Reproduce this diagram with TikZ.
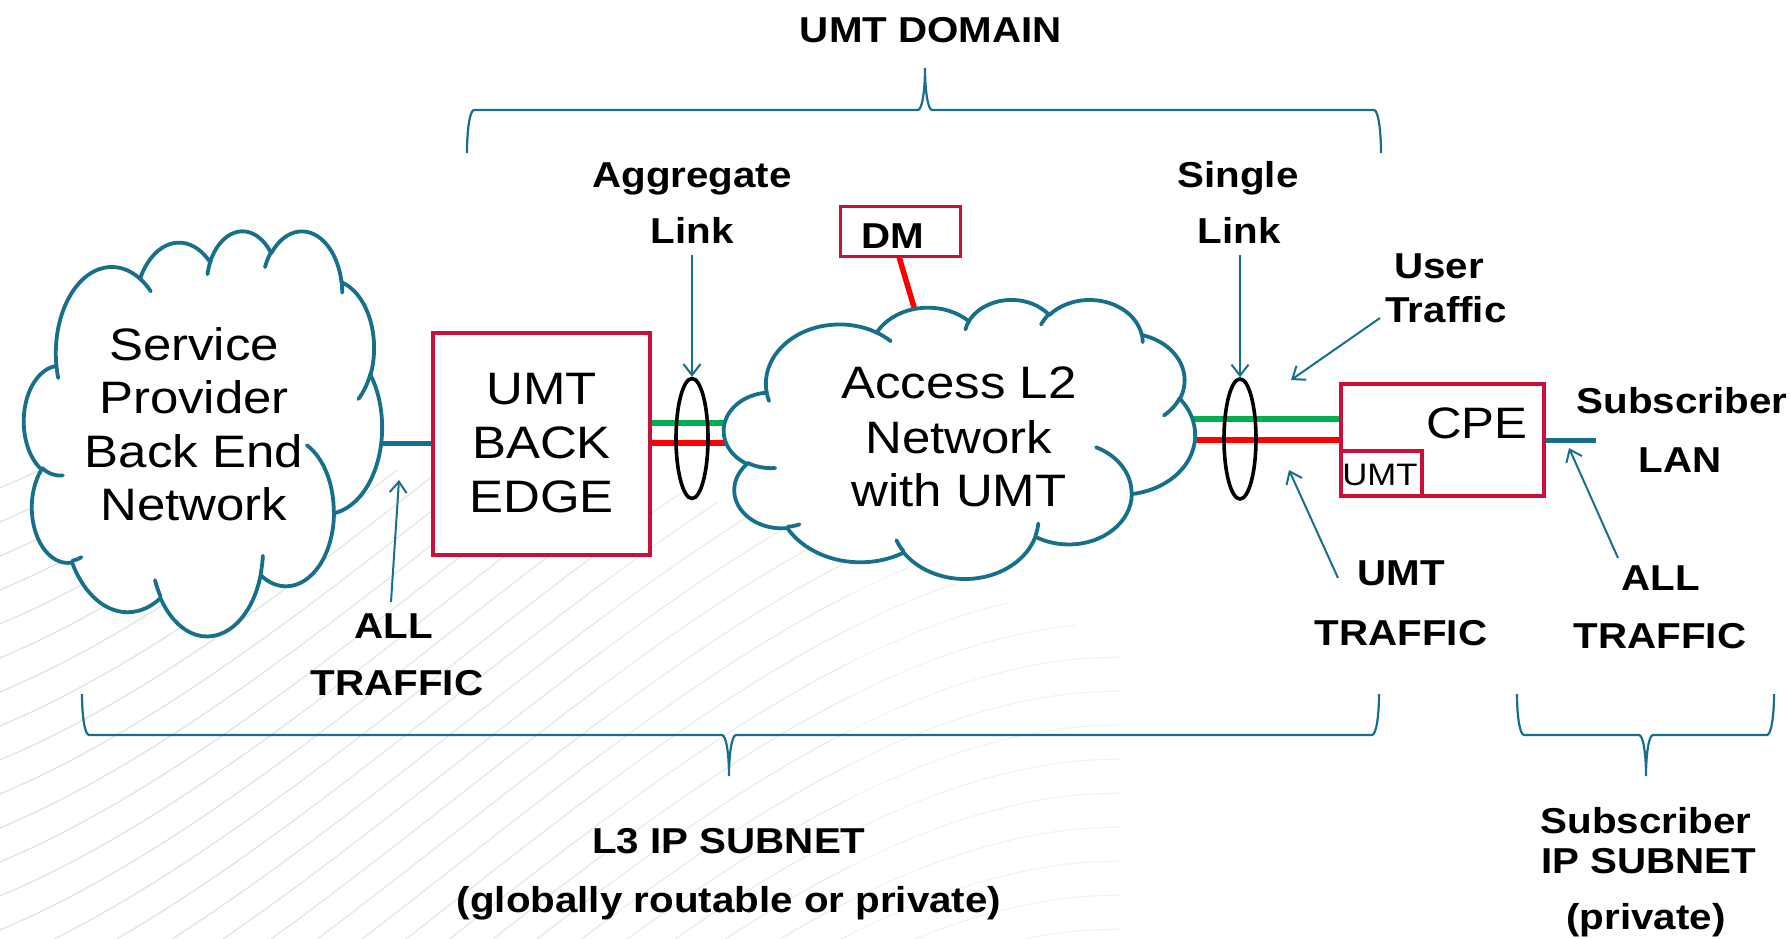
\documentclass[tikz,border=0pt]{standalone}
\usepackage{fontspec}
\newfontfamily\fA[FakeStretch=1.12]{Liberation Sans}
\usetikzlibrary{arrows.meta,shapes.geometric}
\definecolor{umtteal}{RGB}{22,112,140}
\definecolor{boxred}{RGB}{200,16,58}
\definecolor{lgreen}{RGB}{0,176,80}
\definecolor{lred}{RGB}{255,0,0}
\definecolor{bgA}{RGB}{224,224,224}
\definecolor{bgB}{RGB}{228,228,228}
\definecolor{bgC}{RGB}{234,234,234}
\definecolor{bgD}{RGB}{242,242,242}

% ---- PowerPoint-like cloud path builder ----
\newcommand\ppArc[4]{%
  \pgfmathsetmacro\ppA{-((#3)+mod(atan2((#1)*sin(#3),(#2)*cos(#3))-(#3)+900,360)-180)}%
  \pgfmathsetmacro\ppB{-((#3)+(#4)+mod(atan2((#1)*sin((#3)+(#4)),(#2)*cos((#3)+(#4)))-((#3)+(#4))+900,360)-180)}%
  \pgfmathsetmacro\ppX{(#1)*\csx}%
  \pgfmathsetmacro\ppY{(#2)*\csy}%
  \xdef\cpath{\cpath arc[start angle=\ppA, end angle=\ppB, x radius=\ppX pt, y radius=\ppY pt]}%
}
\newcommand\ppMove[2]{%
  \pgfmathsetmacro\ppPx{\cxo+(#1)*\csx}%
  \pgfmathsetmacro\ppPy{\cyo+(#2)*\csy}%
  \xdef\cpath{\cpath (\ppPx,\ppPy)}%
}
\newcommand\cloudSetup[4]{%
  \pgfmathsetmacro\cxo{#1}\pgfmathsetmacro\cyo{#2}%
  \pgfmathsetmacro\csx{(#3)/432}\pgfmathsetmacro\csy{(#4)/432}%
  \gdef\cpath{}%
}
\newcommand\cloudOuter{%
  \ppMove{39.00}{143.70}%
  \ppArc{67.53}{91.90}{-190.4875}{123.7805}%
  \ppArc{53.33}{72.67}{-144.1024}{89.9452}%
  \ppArc{43.65}{59.45}{-145.8079}{99.7230}%
  \ppArc{48.57}{65.95}{-130.9861}{117.2417}%
  \ppArc{53.33}{72.73}{-78.7089}{109.0269}%
  \ppArc{67.75}{92.20}{-46.2673}{130.2690}%
  \ppArc{57.85}{78.67}{0.6250}{114.0333}%
  \ppArc{67.52}{92.15}{22.4516}{115.1726}%
  \ppArc{77.20}{105.43}{66.2426}{75.7110}%
  \ppArc{43.60}{59.18}{-274.9421}{146.7356}%
  \ppArc{43.45}{59.45}{-246.8285}{152.5189}%
  \xdef\cpath{\cpath -- cycle}%
}
\newcommand\cloudInner{%
  \ppMove{46.93}{261.77}\ppArc{43.45}{59.45}{86.7420}{26.4295}%
  \ppMove{69.28}{348.99}\ppArc{43.60}{59.18}{73.6105}{11.4475}%
  \ppMove{164.78}{390.90}\ppArc{67.52}{92.15}{137.6242}{14.0811}%
  \ppMove{288.27}{347.51}\ppArc{67.52}{92.15}{6.4533}{15.9984}%
  \ppMove{341.29}{229.54}\ppArc{57.85}{78.67}{-70.2924}{70.9174}%
  \ppMove{417.98}{153.54}\ppArc{53.33}{72.73}{30.3180}{27.7515}%
  \ppMove{383.24}{54.26}\ppArc{48.57}{65.95}{-13.7443}{14.8589}%
  \ppMove{290.78}{39.52}\ppArc{48.57}{65.95}{-149.1815}{18.1954}%
  \ppMove{221.41}{47.20}\ppArc{43.65}{59.45}{-163.4943}{17.6864}%
  \ppMove{140.00}{51.92}\ppArc{67.53}{91.90}{-66.7070}{12.3194}%
  \ppMove{41.27}{157.89}\ppArc{67.53}{91.90}{157.6544}{11.8582}%
}

\tikzset{
  boxnode/.style={draw=boxred, line width=4.2pt, fill=white, inner sep=0pt, rectangle},
  lbl/.style={font=\fA\bfseries\fontsize{36}{40}\selectfont, anchor=base, inner sep=0pt},
  big/.style={font=\fA\fontsize{45.5}{50}\selectfont, anchor=base, inner sep=0pt},
  ptr/.style={draw=umtteal, line width=2pt, -{Straight Barb[length=11pt,width=17pt]}},
  bracepath/.style={draw=umtteal, line width=2.2pt},
  cloudfill/.style={draw=umtteal, fill=white, line width=3.8pt, line join=round},
  cloudline/.style={draw=umtteal, line width=3.8pt, line cap=round},
  linkring/.style={draw=black, line width=3.6pt, ellipse, inner sep=0pt, minimum width=32pt, minimum height=120pt},
  gline/.style={draw=lgreen, line width=5.5pt},
  rline/.style={draw=lred, line width=5.5pt},
  lanline/.style={draw=umtteal, line width=5pt},
  bgcurve/.style={line width=1.1pt},
}

\begin{document}
\begin{tikzpicture}[x=1pt,y=-1pt]
\useasboundingbox (0,0) rectangle (1791,939);
\fill[white] (0,0) rectangle (1791,939);

% faint background texture
\begin{scope}
\clip (0,470) -- (620,470) -- (1120,640) -- (1120,939) -- (0,939) -- cycle;
\foreach \cc in {420,454,...,1900} {
  \draw[bgcurve, bgA] plot[domain=0:300, samples=10, smooth] (\x,{\cc-0.42*\x-2*(0.02*\x)*(0.02*\x)+0.59*(0.01*\x)*(0.01*\x)*(0.01*\x)});
  \draw[bgcurve, bgB] plot[domain=300:600, samples=10, smooth] (\x,{\cc-0.42*\x-2*(0.02*\x)*(0.02*\x)+0.59*(0.01*\x)*(0.01*\x)*(0.01*\x)});
  \draw[bgcurve, bgC] plot[domain=600:850, samples=10, smooth] (\x,{\cc-0.42*\x-2*(0.02*\x)*(0.02*\x)+0.59*(0.01*\x)*(0.01*\x)*(0.01*\x)});
  \draw[bgcurve, bgD] plot[domain=850:1120, samples=10, smooth] (\x,{\cc-0.42*\x-2*(0.02*\x)*(0.02*\x)+0.59*(0.01*\x)*(0.01*\x)*(0.01*\x)});
}
\end{scope}

% box anchors (drawn later on top)
\path (541.5,444) node[minimum width=217pt, minimum height=222pt, inner sep=0pt] (ube) {};
\path (1442.5,440) node[minimum width=203pt, minimum height=112pt, inner sep=0pt] (cpe) {};
\path (900.5,231.5) node[minimum width=120pt, minimum height=50pt, inner sep=0pt] (dm) {};

% connecting lines under the clouds
\coordinate (spEdge) at (370,443);
\draw[lanline] (spEdge) -- (spEdge -| ube.west);
\coordinate (agG) at (770,423);
\coordinate (agR) at (770,443);
\draw[gline] (agG -| ube.east) -- (agG);
\draw[rline] (agR -| ube.east) -- (agR);
\coordinate (sgG) at (1150,419);
\coordinate (sgR) at (1150,440);
\draw[gline] (sgG) -- (sgG -| cpe.west);
\draw[rline] (sgR) -- (sgR -| cpe.west);
\coordinate (lanEnd) at (1596,440);
\draw[lanline] (lanEnd -| cpe.east) -- (lanEnd);
\coordinate (dmFoot) at (916,314);
\draw[rline] ([xshift=-1.5pt]dm.south) -- (dmFoot);

% clouds
\cloudSetup{24}{230}{358}{405}\cloudOuter
\path[cloudfill] \cpath;
\cloudSetup{24}{230}{358}{405}\cloudInner
\draw[cloudline] \cpath;
\cloudSetup{724}{299}{471}{279}\cloudOuter
\path[cloudfill] \cpath;
\cloudSetup{724}{299}{471}{279}\cloudInner
\draw[cloudline] \cpath;

% link rings
\node[linkring] (agg) at (692,438.5) {};
\node[linkring] (sgl) at (1240,439) {};

% boxes
\node[boxnode, minimum width=217pt, minimum height=222pt] at (ube) {};
\node[boxnode, line width=3.4pt, minimum width=120pt, minimum height=50pt] at (dm) {};
\node[boxnode, minimum width=203pt, minimum height=112pt] at (cpe) {};
\node[draw=boxred, line width=3.8pt, inner sep=0pt, minimum width=81pt, minimum height=45pt] (cpeumt) at (1381.5,473.5) {};

% braces
\draw[bracepath] (467,153) .. controls (467,129) and (470,110) .. (474,110) -- (918,110)
  .. controls (922,110) and (925,91) .. (925,68) .. controls (925,91) and (928,110) .. (932,110)
  -- (1374,110) .. controls (1378,110) and (1381,129) .. (1381,153);
\draw[bracepath] (82,694) .. controls (82,717) and (85,735) .. (89,735) -- (722,735)
  .. controls (726,735) and (729,753) .. (729,776) .. controls (729,753) and (732,735) .. (736,735)
  -- (1372,735) .. controls (1376,735) and (1379,717) .. (1379,694);
\draw[bracepath] (1517,694) .. controls (1517,717) and (1520,735) .. (1524,735) -- (1639,735)
  .. controls (1643,735) and (1646,753) .. (1646,776) .. controls (1646,753) and (1649,735) .. (1653,735)
  -- (1767,735) .. controls (1771,735) and (1774,717) .. (1774,694);

% cloud / box texts
\node[big] (spA) at (194,360) {Service};
\node[big] (spB) at (194,413) {Provider};
\node[big] (spC) at (194,467) {Back End};
\node[big] (spD) at (194,520) {Network};
\node[big] (ubA) at (541.5,404) {UMT};
\node[big] (ubB) at (541.5,458) {BACK};
\node[big] (ubC) at (541.5,512) {EDGE};
\node[big] (acA) at (959,398) {Access L2};
\node[big] (acB) at (959,453) {Network};
\node[big] (acC) at (959,506) {with UMT};
\node[big, font=\fA\fontsize{44}{48}\selectfont] (cpeT) at (1477,438) {CPE};
\node[big, font=\fA\fontsize{31}{34}\selectfont] (cpeU) at (1380,485) {UMT};

% labels
\node[lbl] (udom) at (931,43) {UMT DOMAIN};
\node[lbl] (aggA) at (692,187) {Aggregate};
\node[lbl] (aggB) at (692,243) {Link};
\node[lbl] (sglA) at (1238,187) {Single};
\node[lbl] (sglB) at (1239,243) {Link};
\node[lbl] (dmT) at (893,248) {DM};
\node[lbl] (utA) at (1439,278) {User};
\node[lbl] (utB) at (1446,322) {Traffic};
\node[lbl] (slA) at (1682,413) {Subscriber};
\node[lbl] (slB) at (1680,472) {LAN};
\node[lbl] (umA) at (1401,585) {UMT};
\node[lbl] (umB) at (1401,645) {TRAFFIC};
\node[lbl] (arA) at (1661,590) {ALL};
\node[lbl] (arB) at (1660,648) {TRAFFIC};
\node[lbl] (alA) at (394,638) {ALL};
\node[lbl] (alB) at (397,695) {TRAFFIC};
\node[lbl] (l3A) at (729,853) {L3 IP SUBNET};
\node[lbl] (l3B) at (729,912) {(globally routable or private)};
\node[lbl] (sbA) at (1646,833) {Subscriber};
\node[lbl] (sbB) at (1649,873) {IP SUBNET};
\node[lbl] (sbC) at (1646,929) {(private)};

% pointer arrows
\coordinate (aggTail) at (692,255);
\draw[ptr] (aggTail) -- (agg.north);
\coordinate (sglTail) at (1240,255);
\draw[ptr] (sglTail) -- (sgl.north);
\coordinate (utTail) at (1380,318);
\coordinate (utHead) at (1291,380);
\draw[ptr] (utTail) -- (utHead);
\coordinate (umTail) at (1338,578);
\coordinate (umHead) at (1289,470);
\draw[ptr] (umTail) -- (umHead);
\coordinate (arTail) at (1618,558);
\coordinate (arHead) at (1569,448);
\draw[ptr] (arTail) -- (arHead);
\coordinate (alTail) at (391,602);
\coordinate (alHead) at (399,480);
\draw[ptr] (alTail) -- (alHead);
\end{tikzpicture}
\end{document}
